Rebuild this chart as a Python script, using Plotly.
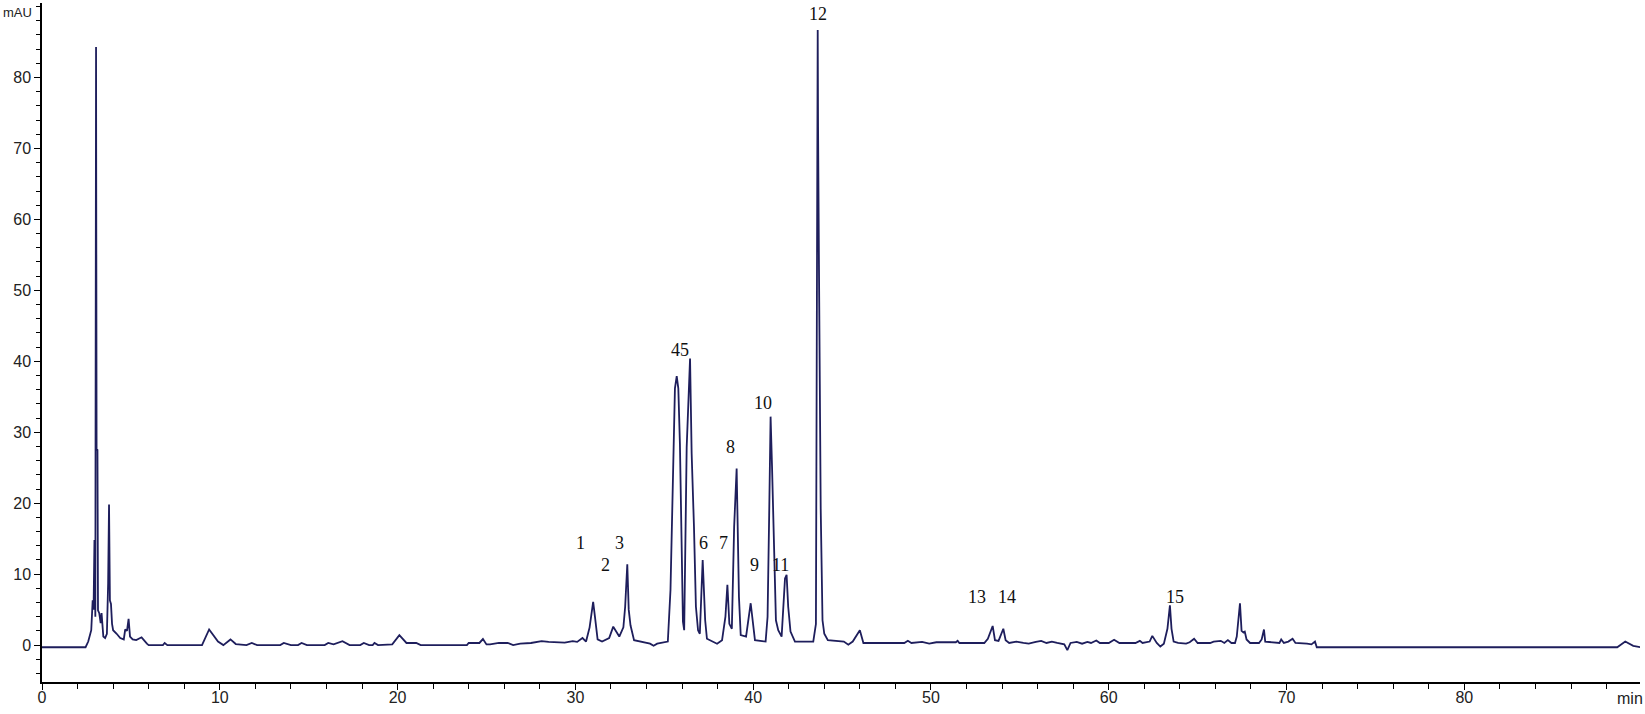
import plotly.graph_objects as go

# Chromatogram trace (time in min, absorbance in mAU)
time_min = [
    0.0, 2.45, 2.6, 2.7, 2.77, 2.85, 2.9, 2.95, 3.0, 3.04, 3.07, 3.12, 3.15, 3.22, 3.3, 3.35, 3.4, 3.45,
    3.55, 3.65, 3.72, 3.77, 3.82, 3.88, 3.94, 4.0, 4.2, 4.4, 4.6, 4.68, 4.78, 4.87, 4.95, 5.1, 5.3, 5.6,
    5.9, 6.0, 6.8, 6.9, 7.05, 9.0, 9.4, 9.9, 10.2, 10.6, 10.9, 11.5, 11.8, 12.1, 13.4, 13.6, 14.0, 14.4,
    14.6, 14.9, 15.9, 16.1, 16.4, 16.9, 17.3, 17.9, 18.1, 18.4, 18.6, 18.7, 18.9, 19.7, 20.1, 20.5, 21.05,
    21.3, 23.9, 24.0, 24.6, 24.8, 25.0, 25.2, 25.7, 26.2, 26.5, 26.9, 27.5, 28.1, 28.5, 29.0, 29.4, 29.85,
    30.1, 30.4, 30.6, 30.8, 31.0, 31.1, 31.25, 31.5, 31.9, 32.13, 32.3, 32.47, 32.7, 32.8, 32.92, 33.0,
    33.1, 33.3, 34.2, 34.4, 34.6, 35.2, 35.35, 35.51, 35.6, 35.7, 35.79, 35.88, 35.98, 36.05, 36.12,
    36.26, 36.45, 36.54, 36.67, 36.78, 36.9, 37.0, 37.16, 37.3, 37.4, 37.97, 38.25, 38.44, 38.55, 38.66,
    38.8, 38.93, 39.07, 39.2, 39.3, 39.6, 39.86, 39.97, 40.1, 40.7, 40.81, 40.9, 40.98, 41.06, 41.17,
    41.28, 41.41, 41.6, 41.79, 41.88, 41.97, 42.1, 42.35, 43.38, 43.53, 43.6, 43.63, 43.65, 43.7, 43.8,
    43.9, 44.0, 44.2, 45.1, 45.35, 45.6, 46.0, 46.2, 48.5, 48.7, 48.9, 49.5, 49.9, 50.3, 51.4, 51.5,
    51.6, 53.0, 53.2, 53.47, 53.6, 53.8, 54.07, 54.2, 54.4, 54.8, 55.2, 55.5, 55.9, 56.2, 56.5, 56.8,
    57.1, 57.5, 57.67, 57.85, 58.2, 58.5, 58.8, 59.0, 59.3, 59.5, 60.0, 60.3, 60.6, 61.5, 61.75, 61.9,
    62.3, 62.45, 62.7, 62.9, 63.1, 63.3, 63.44, 63.53, 63.65, 63.9, 64.35, 64.55, 64.8, 65.0, 65.7,
    65.9, 66.3, 66.5, 66.7, 66.9, 67.1, 67.2, 67.38, 67.47, 67.57, 67.65, 67.75, 67.95, 68.45, 68.6,
    68.73, 68.8, 69.6, 69.7, 69.85, 70.1, 70.34, 70.5, 71.15, 71.4, 71.6, 71.7, 88.6, 89.05, 89.5, 89.9,
]
absorbance_mau = [
    -0.3, -0.3, 0.5, 1.5, 2.1, 6.3, 5.0, 14.8, 4.0, 84.3, 27.6, 27.5, 4.9, 4.5, 3.1, 4.5, 2.5, 1.2,
    1.0, 1.6, 8.7, 19.8, 6.3, 5.8, 3.0, 2.1, 1.6, 1.0, 0.8, 2.2, 2.0, 3.7, 1.2, 0.8, 0.7, 1.1,
    0.2, 0.0, 0.0, 0.3, 0.0, 0.0, 2.2, 0.5, 0.0, 0.8, 0.15, 0.0, 0.3, 0.0, 0.0, 0.3, 0.0, 0.0,
    0.3, 0.0, 0.0, 0.3, 0.1, 0.55, 0.0, 0.0, 0.3, 0.0, 0.0, 0.3, 0.0, 0.1, 1.4, 0.3, 0.3,
    0.0, 0.0, 0.3, 0.3, 0.85, 0.1, 0.1, 0.3, 0.3, 0.0, 0.2, 0.3, 0.55, 0.45, 0.35, 0.35, 0.55,
    0.45, 1.0, 0.5, 2.5, 6.1, 4.0, 0.8, 0.5, 1.0, 2.6, 1.8, 1.2, 2.5, 5.4, 11.4, 5.0,
    2.8, 0.7, 0.2, -0.1, 0.2, 0.5, 7.8, 28.4, 36.2, 37.9, 36.2, 28.4, 15.7, 3.3, 2.1,
    27.9, 40.4, 27.0, 16.7, 5.4, 2.1, 1.6, 12.0, 3.5, 0.9, 0.2, 0.7, 4.0, 8.5, 3.0,
    2.3, 16.7, 24.9, 6.8, 1.4, 1.2, 5.9, 3.5, 0.7, 0.5, 4.0, 18.3, 32.2, 25.2, 13.9,
    3.5, 2.1, 1.2, 9.4, 9.9, 5.4, 1.9, 0.5, 0.5, 3.0, 62.0, 86.7, 73.1, 53.6, 19.0,
    3.5, 1.6, 0.7, 0.5, 0.05, 0.5, 2.1, 0.3, 0.3, 0.6, 0.3, 0.45, 0.2, 0.4, 0.4, 0.6,
    0.3, 0.3, 0.9, 2.7, 0.7, 0.6, 2.3, 0.7, 0.3, 0.5, 0.3, 0.2, 0.45, 0.6, 0.3, 0.5,
    0.3, 0.1, -0.7, 0.3, 0.45, 0.2, 0.45, 0.3, 0.65, 0.3, 0.3, 0.75, 0.3, 0.3, 0.6, 0.3,
    0.5, 1.3, 0.3, -0.2, 0.2, 2.3, 5.6, 2.3, 0.5, 0.3, 0.2, 0.4, 0.9, 0.3, 0.3,
    0.5, 0.6, 0.3, 0.7, 0.3, 0.3, 1.2, 5.9, 2.0, 1.8, 1.9, 0.8, 0.3, 0.3, 0.8,
    2.2, 0.5, 0.3, 0.8, 0.3, 0.5, 0.9, 0.3, 0.2, 0.1, 0.5, -0.3, -0.3, 0.5, -0.1, -0.3,
]

# Peak number labels
peak_labels = ["1", "2", "3", "45", "6", "7", "8", "9", "10", "11", "12", "13", "14", "15"]
peak_label_t = [30.3, 31.7, 32.5, 35.9, 37.2, 38.35, 38.7, 40.1, 40.55, 41.55, 43.65, 52.6, 54.3, 63.7]
peak_label_v = [14.4, 11.3, 14.4, 41.6, 14.4, 14.4, 27.9, 11.3, 34.1, 11.3, 88.9, 6.8, 6.8, 6.8]

# Axis ticks
x_tick_vals = [0, 10, 20, 30, 40, 50, 60, 70, 80]
y_tick_vals = [0, 10, 20, 30, 40, 50, 60, 70, 80]

fig = go.Figure()
fig.add_trace(go.Scatter(
    x=time_min, y=absorbance_mau, mode="lines",
    line=dict(color="#1e1e5c", width=1.8), hoverinfo="x+y", showlegend=False,
))

for txt, t, v in zip(peak_labels, peak_label_t, peak_label_v):
    fig.add_annotation(x=t, y=v, text=txt, showarrow=False, xref="x", yref="y",
                       font=dict(family="Liberation Serif, Times New Roman, serif", size=18, color="#111111"))

tick_font = dict(family="Liberation Sans Narrow, Liberation Sans, Arial, sans-serif", size=16, color="#222222")

fig.add_annotation(x=-0.0255, y=0.986, text="mAU", showarrow=False, xref="paper", yref="paper",
                   xanchor="left", yanchor="middle",
                   font=dict(family=tick_font["family"], size=13, color="#222222"))
fig.add_annotation(x=0.9937, y=-0.0236, text="min", showarrow=False, xref="paper", yref="paper",
                   xanchor="center", yanchor="middle", font=tick_font)

fig.update_layout(
    width=1645, height=714,
    margin=dict(l=42, r=5, t=3, b=32),
    paper_bgcolor="white", plot_bgcolor="white",
    xaxis=dict(
        range=[0, 89.88], showgrid=False, zeroline=False,
        showline=True, linecolor="black", linewidth=1.5,
        tickmode="array", tickvals=x_tick_vals, ticktext=[str(v) for v in x_tick_vals],
        ticks="outside", ticklen=6, tickwidth=1.3, tickcolor="black",
        ticklabelstandoff=-6,
        minor=dict(tickmode="linear", tick0=0, dtick=2, ticks="outside", ticklen=5,
                   tickwidth=1.1, tickcolor="black"),
        tickfont=tick_font,
    ),
    yaxis=dict(
        range=[-5.2, 90.5], showgrid=False, zeroline=False,
        showline=True, linecolor="black", linewidth=1.5,
        tickmode="array", tickvals=y_tick_vals, ticktext=[str(v) for v in y_tick_vals],
        ticks="outside", ticklen=6, tickwidth=1.3, tickcolor="black",
        minor=dict(tickmode="linear", tick0=0, dtick=2, ticks="outside", ticklen=4,
                   tickwidth=1.0, tickcolor="black"),
        tickfont=tick_font,
    ),
)

fig.write_html("out.html", config={"displayModeBar": False},
               post_script="document.body.style.margin='0';document.body.style.padding='0';document.body.style.overflow='hidden';")
